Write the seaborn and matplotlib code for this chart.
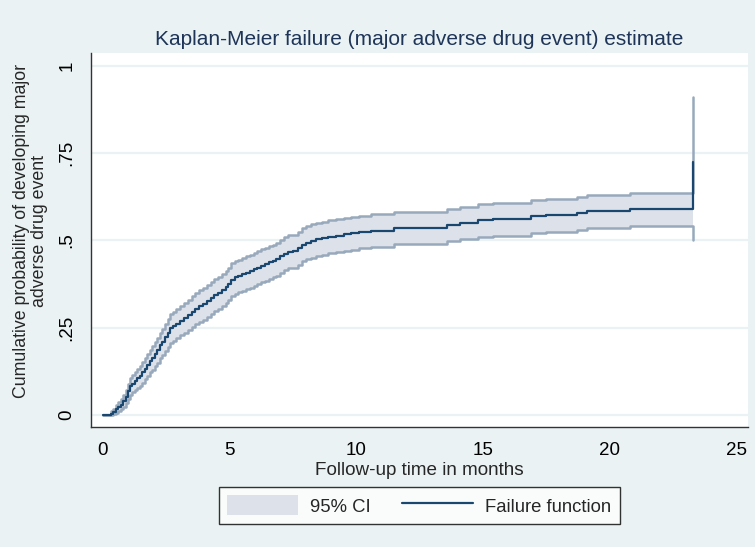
import numpy as np
import pandas as pd
import seaborn as sns
from matplotlib import pyplot as plt
from matplotlib.patches import Patch
from matplotlib.lines import Line2D

# follow-up time (months) at each step of the KM failure curve
times = [0, 0.3, 0.4, 0.5, 0.6, 0.7, 0.8, 0.9, 0.97, 1.05, 1.15, 1.25, 1.35, 1.45,
         1.55, 1.65, 1.75, 1.85, 1.95, 2.05, 2.15, 2.25, 2.35, 2.45, 2.55, 2.65, 2.75,
         2.9, 3.05, 3.2, 3.35, 3.5, 3.65, 3.8, 3.95, 4.1, 4.25, 4.4, 4.55, 4.7, 4.85,
         4.95, 5.05, 5.2, 5.35, 5.5, 5.65, 5.8, 5.95, 6.1, 6.25, 6.4, 6.55, 6.7, 6.85,
         7.0, 7.15, 7.3, 7.5, 7.7, 7.85, 8.0, 8.2, 8.4, 8.65, 8.9, 9.2, 9.5, 9.8, 10.1,
         10.6, 11.5, 13.6, 14.1, 14.8, 15.4, 16.9, 17.5, 18.7, 19.1, 20.8, 23.3]
failure = [0, .004, .008, .016, .022, .03, .04, .052, .068, .082, .09, .098, .105, .112,
           .122, .132, .143, .155, .164, .174, .186, .2, .21, .222, .236, .248, .254,
           .262, .27, .278, .287, .296, .305, .312, .318, .326, .335, .343, .35, .358, .366,
           .374, .388, .394, .398, .403, .408, .412, .417, .422, .428, .432, .437, .441, .446,
           .455, .462, .468, .47, .478, .488, .494, .499, .503, .507, .511, .514, .518, .521, .524,
           .528, .535, .544, .551, .559, .562, .57, .573, .578, .583, .59, .725]
lower = [0, .001, .002, .006, .01, .016, .024, .034, .047, .058, .065, .072, .078, .084,
         .093, .102, .112, .122, .13, .139, .15, .163, .172, .183, .196, .207, .213,
         .22, .228, .235, .244, .252, .26, .267, .273, .281, .29, .297, .304, .312, .32,
         .328, .341, .347, .351, .356, .361, .365, .37, .375, .381, .385, .39, .394, .398,
         .407, .414, .42, .422, .43, .44, .446, .451, .455, .459, .463, .467, .471, .474, .477,
         .482, .489, .497, .504, .511, .514, .522, .525, .53, .535, .541, .50]
upper = [0, .012, .018, .028, .036, .046, .058, .072, .09, .106, .115, .124, .132, .14,
         .151, .162, .174, .187, .197, .208, .221, .236, .247, .26, .275, .288, .295,
         .303, .312, .32, .33, .34, .349, .357, .363, .371, .38, .389, .396, .404, .412,
         .42, .434, .44, .445, .45, .455, .459, .464, .469, .475, .479, .484, .488, .493,
         .502, .509, .515, .517, .525, .535, .541, .546, .55, .554, .558, .561, .565, .568, .571,
         .575, .581, .59, .597, .605, .608, .616, .619, .624, .629, .636, .91]

x_ticks = [0, 5, 10, 15, 20, 25]
y_ticks = [0, .25, .5, .75, 1]
y_labels = ['0', '.25', '.5', '.75', '1']

df = pd.DataFrame({'time': times, 'failure': failure, 'lower': lower, 'upper': upper})

bg = '#EAF2F3'
navy = '#1A476F'
ci_fill = '#DDE1E9'
ci_line = '#98A9BC'

sns.set_style('white')
plt.rcParams['font.family'] = ['Liberation Sans', 'DejaVu Sans']

fig = plt.figure(figsize=(7.55, 5.47), dpi=100, facecolor=bg)
ax = fig.add_axes([0.1205, 0.2194, 0.8702, 0.6837])
ax.set_facecolor('white')

for yv in y_ticks:
    ax.axhline(yv, color=bg, lw=1.6, zorder=0)

ax.fill_between(df['time'], df['lower'], df['upper'], step='post',
                color=ci_fill, lw=0, zorder=1)
sns.lineplot(data=df, x='time', y='lower', ax=ax, color=ci_line, lw=1.8,
             drawstyle='steps-post', estimator=None, sort=False, zorder=2)
sns.lineplot(data=df, x='time', y='upper', ax=ax, color=ci_line, lw=1.8,
             drawstyle='steps-post', estimator=None, sort=False, zorder=2)
sns.lineplot(data=df, x='time', y='failure', ax=ax, color=navy, lw=1.6,
             drawstyle='steps-post', estimator=None, sort=False, zorder=3)

ax.set_xlim(-0.474, 25.47)
ax.set_ylim(-0.0344, 1.037)
ax.set_xticks(x_ticks)
ax.set_yticks(y_ticks)
ax.set_yticklabels(y_labels, rotation=90, va='center')
ax.tick_params(axis='both', direction='out', length=7, width=1, color='#333333',
               labelsize=13.5, labelcolor='black', pad=4)
for s in ['top', 'right']:
    ax.spines[s].set_visible(False)
for s in ['left', 'bottom']:
    ax.spines[s].set_color('#333333')
    ax.spines[s].set_linewidth(1)

ax.set_xlabel('Follow-up time in months', fontsize=13.6, labelpad=2)
ax.set_ylabel('Cumulative probability of developing major\nadverse drug event',
              fontsize=12.8, linespacing=1.1, multialignment='center')
ax.yaxis.set_label_coords(-0.065, 0.525)
ax.set_title('Kaplan-Meier failure (major adverse drug event) estimate',
             fontsize=15, color='#1E3559', pad=6)

handles = [Patch(facecolor=ci_fill, edgecolor='none'),
           Line2D([0], [0], color=navy, lw=1.6)]
leg = fig.legend(handles, ['95% CI', 'Failure function'], loc='center',
                 bbox_to_anchor=(0.555, 0.0759), ncol=2, frameon=True,
                 fancybox=False, fontsize=13.3, handlelength=3.85, handleheight=1.3,
                 columnspacing=1.7, borderpad=0.45, handletextpad=0.65)
leg.get_frame().set_edgecolor('black')
leg.get_frame().set_linewidth(1)
leg.get_frame().set_facecolor('white')

fig.savefig('out.png', dpi=100, facecolor=bg)
